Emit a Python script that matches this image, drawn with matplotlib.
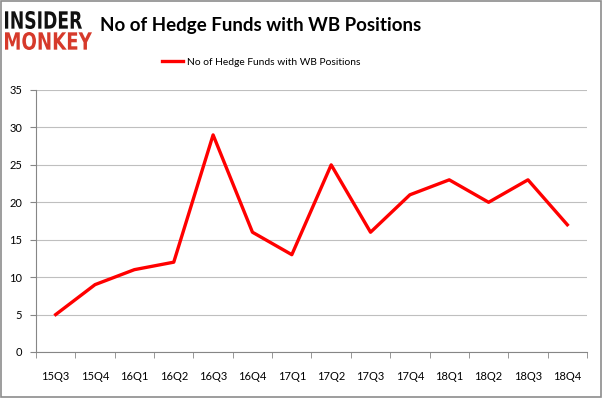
import matplotlib
matplotlib.use("Agg")
import matplotlib.pyplot as plt
from matplotlib.patches import Rectangle, PathPatch
from matplotlib.textpath import TextPath
from matplotlib.font_manager import FontProperties
from matplotlib.transforms import Affine2D

quarters = ["15Q3", "15Q4", "16Q1", "16Q2", "16Q3", "16Q4", "17Q1", "17Q2",
            "17Q3", "17Q4", "18Q1", "18Q2", "18Q3", "18Q4"]
funds = [5, 9, 11, 12, 29, 16, 13, 25, 16, 21, 23, 20, 23, 17]
series_name = "No of Hedge Funds with WB Positions"
title = "No of Hedge Funds with WB Positions"
yticks = [0, 5, 10, 15, 20, 25, 30, 35]

plt.rcParams['font.family'] = ['Lato', 'DejaVu Sans']

W, H = 602, 398
fig = plt.figure(figsize=(W / 100, H / 100), dpi=100)
fig.patches.append(Rectangle((0.0015, 0.0025), 0.997, 0.995, transform=fig.transFigure,
                             fill=False, edgecolor="#8c8c8c", linewidth=1.2))

ax = fig.add_axes([36 / W, 46 / H, 551 / W, 262 / H])
x = list(range(len(quarters)))
ax.plot(x, funds, color="#ff0000", linewidth=2.4, label=series_name)
ax.set_xlim(-0.5, len(quarters) - 0.5)
ax.set_ylim(0, 35)
ax.set_yticks(yticks)
ax.set_yticklabels([str(v) for v in yticks], fontsize=8)
ax.set_xticks(x)
ax.set_xticklabels(quarters, fontsize=8)
ax.set_xticks([i - 0.5 for i in range(len(quarters) + 1)], minor=True)
ax.tick_params(axis='x', which='major', length=0, pad=14)
ax.tick_params(axis='x', which='minor', length=4, color="#868686", direction='out')
ax.tick_params(axis='y', length=4, color="#868686", pad=6)
ax.grid(axis='y', color="#bfbfbf", linewidth=0.8)
ax.set_axisbelow(True)
for s in ['top', 'right']:
    ax.spines[s].set_visible(False)
for s in ['left', 'bottom']:
    ax.spines[s].set_color("#868686")
    ax.spines[s].set_linewidth(0.8)

ax.legend(loc='center', bbox_to_anchor=(0.409, 1.107), frameon=False, fontsize=7.4,
          handlelength=2.0, handletextpad=0.4)

fig.text(100 / W, 1 - 25 / H, title, fontsize=13.5, fontweight='bold', va='center', ha='left')


def logo_word(word, color, x0, x1, ytop, ybot):
    tp = TextPath((0, 0), word, size=1, prop=FontProperties(family='DejaVu Sans', weight='bold'))
    ext = tp.get_extents()
    sx = (x1 - x0) / ext.width
    sy = (ybot - ytop) / ext.height
    tr = Affine2D().translate(-ext.x0, -ext.y0).scale(sx, sy).translate(x0, H - ybot)
    patch = PathPatch(tp, facecolor=color, edgecolor='none', transform=tr)
    fig.add_artist(patch)


logo_word("INSIDER", "#111111", 5, 82, 11, 29)
logo_word("MONKEY", "#d63a2b", 5, 92, 32, 50)

fig.savefig("out.png", dpi=100)
